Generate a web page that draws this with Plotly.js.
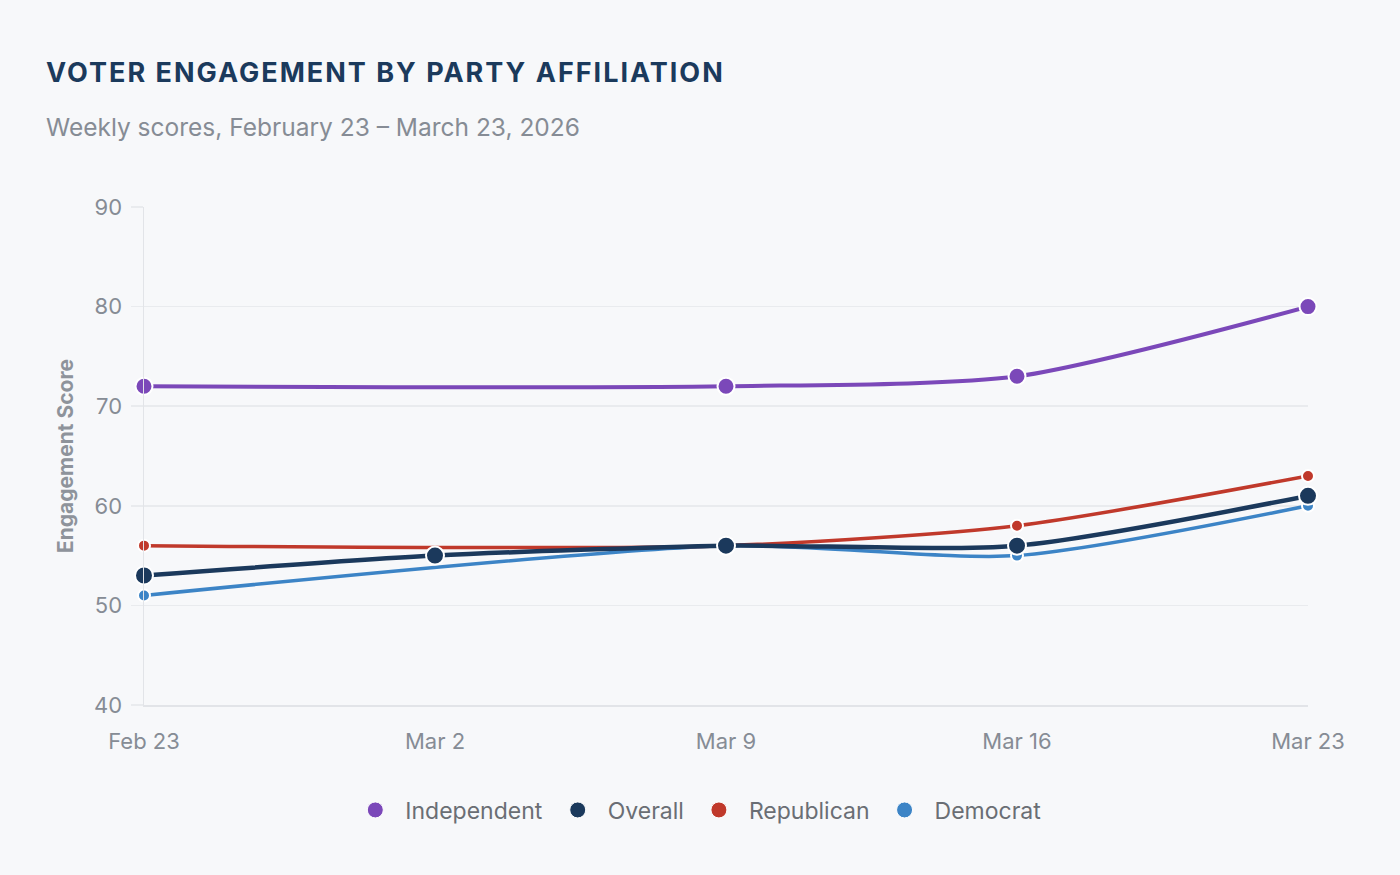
<!DOCTYPE html>
<html>
<head>
<meta charset="utf-8">
<script src="https://cdn.plot.ly/plotly-3.0.1.min.js"></script>
<style>
  html, body { margin: 0; padding: 0; background: #f7f8fa; }
  #chart { width: 1400px; height: 875px; }
  .gtitle { letter-spacing: 2px; }
</style>
</head>
<body>
<div id="chart"></div>
<script>
// weekly points
const weeks = ["Feb 23", "Mar 2", "Mar 9", "Mar 16", "Mar 23"];

const independent = [72, null, 72, 73, 80];
const overall     = [53, 55, 56, 56, 61];
const republican  = [56, null, 56, 58, 63];
const democrat    = [51, null, 56, 55, 60];

const seriesNames  = ["Independent", "Overall", "Republican", "Democrat"];
const seriesColors = ["#7b48b9", "#1b395c", "#c0392b", "#3c84c6"];

function lineTrace(name, ys, color, width, msize) {
    return {
        x: weeks,
        y: ys,
        name: name,
        type: "scatter",
        mode: "lines+markers",
        connectgaps: true,
        cliponaxis: false,
        showlegend: false,
        line: { color: color, width: width, shape: "spline", smoothing: 0.7 },
        marker: { color: color, size: msize, line: { color: "#ffffff", width: 2 } }
    };
}

let data = [
    lineTrace("Democrat", democrat, seriesColors[3], 3.5, 12),
    lineTrace("Republican", republican, seriesColors[2], 3.5, 12),
    lineTrace("Independent", independent, seriesColors[0], 4, 17),
    lineTrace("Overall", overall, seriesColors[1], 4.5, 18)
];

// legend only gets the dots
for (i = 0; i < seriesNames.length; i++) {
    data.push({
        x: [null],
        y: [null],
        name: seriesNames[i],
        type: "scatter",
        mode: "markers",
        legendrank: i + 1,
        marker: { color: seriesColors[i], size: 16, line: { color: "#ffffff", width: 1 } }
    });
}

const gray = "#868c95";
const axisGray = "#e2e4e8";

const layout = {
    width: 1400,
    height: 875,
    paper_bgcolor: "#f7f8fa",
    plot_bgcolor: "#f7f8fa",
    margin: { l: 144, r: 92, t: 207, b: 170 },
    font: { family: "Inter, 'Noto Sans', sans-serif", color: gray },
    title: {
        text: "<b>VOTER ENGAGEMENT BY PARTY AFFILIATION</b>",
        font: { size: 27, color: "#1b3a5c", family: "Inter, 'Noto Sans', sans-serif" },
        xref: "container", x: 46 / 1400, xanchor: "left",
        yref: "container", y: 1 - 73 / 875, yanchor: "middle"
    },
    annotations: [{
        text: "Weekly scores, February 23 \u2013 March 23, 2026",
        xref: "paper", yref: "paper",
        x: (44 - 144) / 1164, y: (705 - 127) / 498,
        xanchor: "left", yanchor: "middle",
        showarrow: false,
        font: { size: 24.5, color: "#868c95" }
    }],
    xaxis: {
        type: "category",
        range: [0, 4],
        showgrid: false,
        zeroline: false,
        showline: true,
        linecolor: axisGray,
        linewidth: 1.5,
        ticks: "",
        tickfont: { size: 22, color: gray },
        ticklabelstandoff: 16
    },
    yaxis: {
        range: [40, 90],
        dtick: 10,
        showgrid: true,
        gridcolor: "#e9ebee",
        gridwidth: 1.5,
        zeroline: false,
        showline: true,
        linecolor: axisGray,
        linewidth: 1.5,
        ticks: "outside",
        ticklen: 12,
        tickwidth: 1.5,
        tickcolor: "#e9ebee",
        tickfont: { size: 22, color: gray },
        ticklabelstandoff: 4,
        title: {
            text: "<b>Engagement Score</b>",
            font: { size: 21, color: "#8e939b" },
            standoff: 14
        }
    },
    legend: {
        orientation: "h",
        xref: "container", x: 0.497, xanchor: "center",
        yref: "container", y: 1 - 810 / 875, yanchor: "middle",
        font: { size: 23, color: "#6a6e74" },
        itemsizing: "trace",
        itemwidth: 50,
        tracegroupgap: 0
    },
    showlegend: true,
    hovermode: false
};

Plotly.newPlot("chart", data, layout, { displayModeBar: false, staticPlot: true });
</script>
</body>
</html>
